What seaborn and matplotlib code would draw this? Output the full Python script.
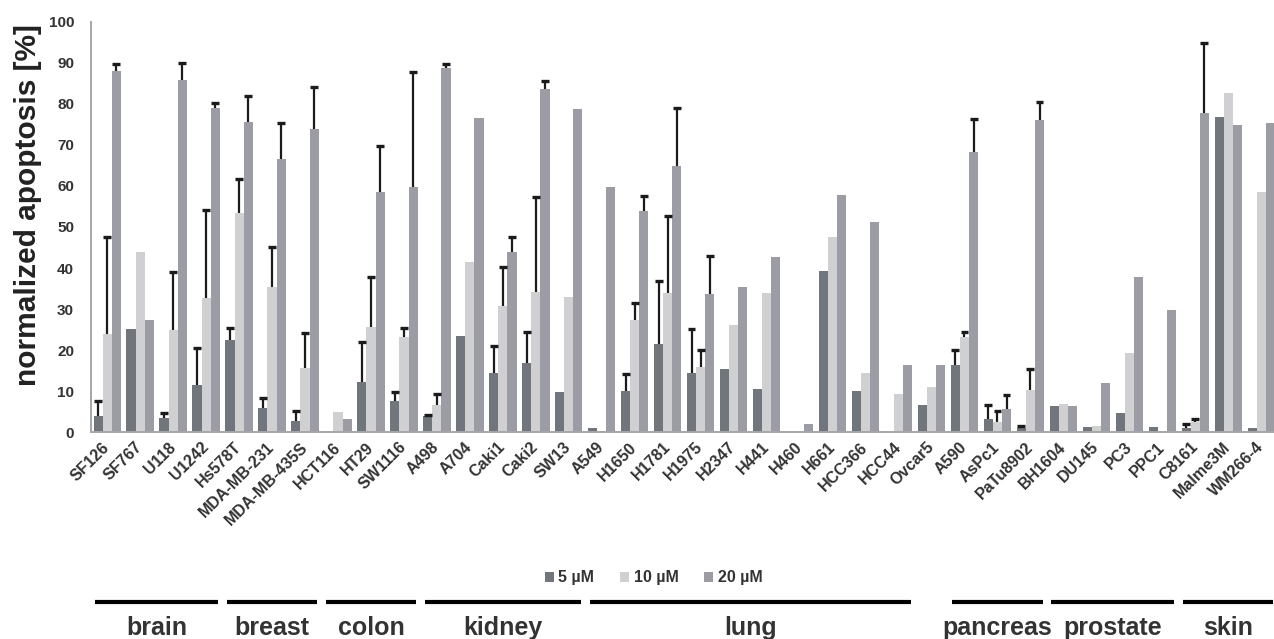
import numpy as np
import pandas as pd
import matplotlib
matplotlib.use("Agg")
import matplotlib.pyplot as plt
from matplotlib.patches import Patch
from matplotlib.lines import Line2D
from matplotlib.transforms import blended_transform_factory
import seaborn as sns

# Cell lines in plotting order
cells = ["SF126", "SF767", "U118", "U1242", "Hs578T", "MDA-MB-231", "MDA-MB-435S",
         "HCT116", "HT29", "SW1116", "A498", "A704", "Caki1", "Caki2", "SW13",
         "A549", "H1650", "H1781", "H1975", "H2347", "H441", "H460", "H661",
         "HCC366", "HCC44", "Ovcar5", "A590", "AsPc1", "PaTu8902", "BH1604",
         "DU145", "PC3", "PPC1", "C8161", "Malme3M", "WM266-4"]

doses = ["5 µM", "10 µM", "20 µM"]

# Normalized apoptosis [%] per dose
apo_5 = [4.0, 25.2, 3.4, 11.5, 22.5, 5.8, 2.8,
         0.0, 12.3, 7.6, 4.0, 23.5, 14.5, 16.8, 9.7,
         1.0, 10.1, 21.4, 14.5, 15.5, 10.6, 0.0, 39.3,
         10.1, 0.0, 6.7, 16.3, 3.2, 1.1, 6.4,
         1.3, 4.8, 1.4, 1.0, 76.7, 1.0]
apo_10 = [23.9, 43.8, 24.8, 32.6, 53.3, 35.5, 15.6,
          5.0, 25.7, 23.1, 6.7, 41.4, 30.8, 34.2, 33.0,
          0.3, 27.4, 33.8, 16.0, 26.1, 34.0, 0.0, 47.5,
          14.5, 9.3, 11.1, 23.1, 2.4, 10.3, 6.9,
          1.6, 19.2, 0.0, 2.6, 82.7, 58.6]
apo_20 = [88.0, 27.4, 85.8, 78.9, 75.5, 66.6, 73.9,
          3.2, 58.4, 59.8, 88.6, 76.5, 43.8, 83.6, 78.7,
          59.8, 54.0, 64.9, 33.6, 35.5, 42.8, 2.0, 57.7,
          51.1, 16.3, 16.3, 68.3, 5.6, 76.1, 6.4,
          11.9, 37.7, 29.8, 77.7, 74.8, 75.2]

# Standard deviations (NaN = single measurement, no error bar)
nan = np.nan
sd_5 = [3.6, nan, 1.4, 9.0, 2.8, 2.5, 2.5,
        nan, 9.6, 2.1, 0.3, nan, 6.5, 7.7, nan,
        nan, 4.0, 15.5, 10.6, nan, nan, nan, nan,
        nan, nan, nan, 3.7, 3.5, 0.5, nan,
        nan, nan, nan, 1.0, nan, nan]
sd_10 = [23.6, nan, 14.3, 21.5, 8.3, 9.7, 8.5,
         nan, 12.2, 2.2, 2.6, nan, 9.4, 23.0, nan,
         nan, 4.0, 18.9, 4.0, nan, nan, nan, nan,
         nan, nan, nan, 1.4, 2.8, 5.1, nan,
         nan, nan, nan, 0.6, nan, nan]
sd_20 = [1.6, nan, 4.1, 1.4, 6.5, 8.8, 10.3,
         nan, 11.2, 28.0, 1.0, nan, 3.8, 2.0, nan,
         nan, 3.6, 14.0, 9.3, nan, nan, nan, nan,
         nan, nan, nan, 7.9, 3.5, 4.4, nan,
         nan, nan, nan, 17.0, nan, nan]

# Tissue of origin: (name, first cell index, last cell index)
tissues = [("brain", 0, 3), ("breast", 4, 6), ("colon", 7, 9), ("kidney", 10, 14),
           ("lung", 15, 24), ("pancreas", 26, 28), ("prostate", 29, 32), ("skin", 33, 35)]

palette = {"5 µM": "#71767c", "10 µM": "#d0d0d2", "20 µM": "#9c9ca5"}
text_color = "#333333"
axis_color = "#a6a6a6"

sns.set_style("white")
plt.rcParams["font.family"] = ["Liberation Sans", "DejaVu Sans"]
plt.rcParams["font.weight"] = "bold"

df = pd.DataFrame({
    "cell": cells * 3,
    "dose": np.repeat(doses, len(cells)),
    "apoptosis": apo_5 + apo_10 + apo_20,
})

fig = plt.figure(figsize=(12.74, 6.39), dpi=100)
ax = fig.add_axes([0.0712, 0.3235, 0.9317, 0.6426])

sns.barplot(data=df, x="cell", y="apoptosis", hue="dose", order=cells,
            hue_order=doses, palette=palette, width=0.83, saturation=1,
            linewidth=0, errorbar=None, legend=False, ax=ax)

# One-sided (upper) error bars on top of each bar
err_color = "#1b1b1b"
for container, sds in zip(ax.containers, [sd_5, sd_10, sd_20]):
    for bar in container:
        xc = bar.get_x() + bar.get_width() / 2
        sd = sds[int(round(xc))]
        if np.isnan(sd):
            continue
        y0 = bar.get_height()
        y1 = y0 + sd
        half = bar.get_width() * 0.43
        ax.vlines(xc, y0, y1, color=err_color, lw=1.6, zorder=3)
        ax.hlines(y1, xc - half, xc + half, color=err_color, lw=2.4, zorder=3)

ax.set_xlim(-0.5, len(cells) - 0.5)
ax.set_ylim(0, 100)
ax.set_yticks(range(0, 101, 10))
ax.set_xlabel("")
ax.set_ylabel("normalized apoptosis [%]", fontsize=21.5, fontweight="bold",
              color="#222222", va="center")
ax.yaxis.set_label_coords(-0.0528, 0.5536)

for side in ("top", "right"):
    ax.spines[side].set_visible(False)
for side in ("left", "bottom"):
    ax.spines[side].set_color(axis_color)
    ax.spines[side].set_linewidth(1.4)

ax.tick_params(axis="y", length=4, width=1.2, color=axis_color, pad=8,
               labelsize=11, labelcolor=text_color)
ax.set_xticks(np.arange(-0.5, len(cells), 1.0), minor=True)
ax.tick_params(axis="x", which="minor", length=4, width=1.2, color=axis_color)
ax.tick_params(axis="x", which="major", length=0, pad=9)
ax.set_xticks(range(len(cells)))
ax.set_xticklabels(cells, rotation=45, ha="right", va="center",
                   rotation_mode="anchor", fontsize=11.5, fontweight="bold",
                   color=text_color)

# Dose legend
handles = [Patch(facecolor=palette[d], edgecolor="none") for d in doses]
fig.legend(handles, doses, loc="center", bbox_to_anchor=(0.513, 0.0955), ncol=3,
           frameon=False, handlelength=0.55, handleheight=0.6, handletextpad=0.3,
           columnspacing=1.6, prop={"weight": "bold", "size": 11.5},
           labelcolor=text_color)

# Tissue brackets with names underneath
blend = blended_transform_factory(ax.transData, fig.transFigure)
inset = 0.13
for name, first, last in tissues:
    x0 = first - 0.5 + inset
    x1 = last + 0.5 - inset
    fig.add_artist(Line2D([x0, x1], [0.0574, 0.0574], transform=blend,
                          color="black", lw=3.0, solid_capstyle="butt"))
    fig.text((x0 + x1) / 2, 0.007, name, transform=blend, ha="center",
             va="baseline", fontsize=18, fontweight="bold", color=text_color)

fig.savefig("out.png", dpi=100, facecolor="white")
